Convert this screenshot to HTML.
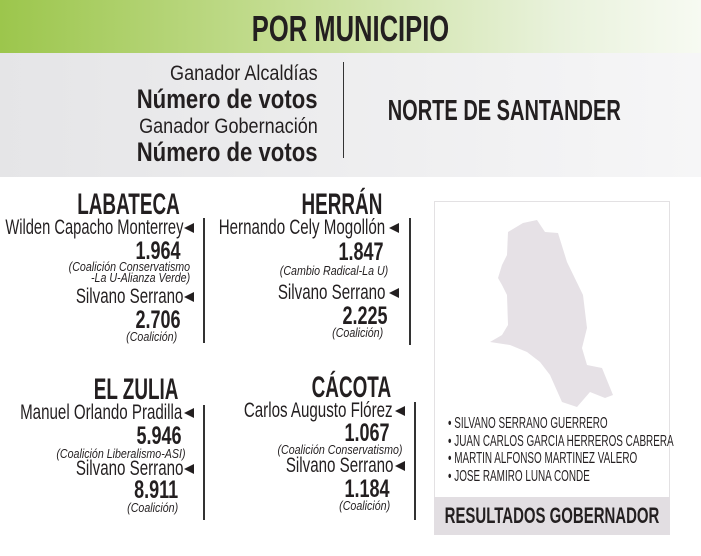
<!DOCTYPE html>
<html><head><meta charset="utf-8"><style>
body{margin:0;width:701px;height:556px;background:#fff;position:relative;overflow:hidden;font-family:"Liberation Sans",sans-serif;color:#231f20}
.t{position:absolute;white-space:nowrap;transform:scaleX(.72);transform-origin:right center;text-align:right}
.h{transform:scaleX(.63)}
.i{font-style:italic;transform:scaleX(.82)}
.c{transform-origin:center center}
.b{font-weight:bold}
.ln{position:absolute;width:2px;background:#333}
.ar{position:absolute;width:0;height:0;border-top:5px solid transparent;border-bottom:5px solid transparent;border-right:10px solid #231f20}
</style></head><body>
<div style="position:absolute;left:0;top:0;width:701px;height:53px;background:linear-gradient(90deg,#9cc64c 0%,#c4dd92 40%,#e9f2dc 80%,#f7faf2 100%)"></div>
<div style="position:absolute;left:0;top:53px;width:701px;height:124px;background:linear-gradient(90deg,#e5e5e7,#f6f6f7)"></div>
<div class="t b c" style="left:0;width:701px;text-align:center;top:11px;font-size:36px;line-height:36px;transform:scaleX(.71)">POR MUNICIPIO</div>
<div class="t" style="right:383px;top:63px;font-size:21px;line-height:22px;transform:scaleX(.86)">Ganador Alcaldías</div>
<div class="t b" style="right:383px;top:86px;font-size:27px;line-height:27px;transform:scaleX(.82)">Número de votos</div>
<div class="t" style="right:383px;top:116px;font-size:21px;line-height:22px;transform:scaleX(.86)">Ganador Gobernación</div>
<div class="t b" style="right:383px;top:139px;font-size:27px;line-height:27px;transform:scaleX(.82)">Número de votos</div>
<div class="ln" style="left:343px;top:62px;height:96px;width:1px"></div>
<div class="t b" style="right:80px;top:96px;font-size:29px;line-height:30px;transform:scaleX(.69)">NORTE DE SANTANDER</div>

<!-- LABATECA -->
<div class="t b h" style="right:521px;top:190px;font-size:30px;line-height:30px">LABATECA</div>
<div class="t" style="right:518px;top:217px;font-size:21px;line-height:22px;transform:scaleX(.70)">Wilden Capacho Monterrey</div><div class="ar" style="left:184px;top:223px"></div>
<div class="t b" style="right:520px;top:239px;font-size:25px;line-height:25px">1.964</div>
<div class="t i" style="right:511px;top:261px;font-size:13px;line-height:11px">(Coalición Conservatismo<br>-La U-Alianza Verde)</div>
<div class="t" style="right:518px;top:286px;font-size:21px;line-height:22px">Silvano Serrano</div><div class="ar" style="left:184px;top:292px"></div>
<div class="t b" style="right:520px;top:308px;font-size:25px;line-height:25px">2.706</div>
<div class="t i" style="right:524px;top:330px;font-size:13px;line-height:13px">(Coalición)</div>
<div class="ln" style="left:203px;top:218px;height:125px"></div>

<!-- HERRAN -->
<div class="t b h" style="right:319px;top:190px;font-size:30px;line-height:30px">HERRÁN</div>
<div class="t" style="right:316px;top:217px;font-size:21px;line-height:22px">Hernando Cely Mogollón</div><div class="ar" style="left:389px;top:223px"></div>
<div class="t b" style="right:317px;top:240px;font-size:25px;line-height:25px">1.847</div>
<div class="t i" style="right:313px;top:264px;font-size:13px;line-height:13px">(Cambio Radical-La U)</div>
<div class="t" style="right:316px;top:282px;font-size:21px;line-height:22px">Silvano Serrano</div><div class="ar" style="left:389px;top:288px"></div>
<div class="t b" style="right:313px;top:304px;font-size:25px;line-height:25px">2.225</div>
<div class="t i" style="right:318px;top:326px;font-size:13px;line-height:13px">(Coalición)</div>
<div class="ln" style="left:409px;top:218px;height:127px"></div>

<!-- EL ZULIA -->
<div class="t b h" style="right:523px;top:375px;font-size:30px;line-height:30px">EL ZULIA</div>
<div class="t" style="right:519px;top:402px;font-size:21px;line-height:22px">Manuel Orlando Pradilla</div><div class="ar" style="left:184px;top:408px"></div>
<div class="t b" style="right:519px;top:424px;font-size:25px;line-height:25px">5.946</div>
<div class="t i" style="right:516px;top:447px;font-size:13px;line-height:13px">(Coalición Liberalismo-ASI)</div>
<div class="t" style="right:518px;top:458px;font-size:21px;line-height:22px">Silvano Serrano</div><div class="ar" style="left:184px;top:464px"></div>
<div class="t b" style="right:523px;top:478px;font-size:25px;line-height:25px">8.911</div>
<div class="t i" style="right:523px;top:501px;font-size:13px;line-height:13px">(Coalición)</div>
<div class="ln" style="left:203px;top:405px;height:115px"></div>

<!-- CACOTA -->
<div class="t b h" style="right:310px;top:373px;font-size:30px;line-height:30px">CÁCOTA</div>
<div class="t" style="right:308px;top:400px;font-size:21px;line-height:22px">Carlos Augusto Flórez</div><div class="ar" style="left:395px;top:406px"></div>
<div class="t b" style="right:311px;top:421px;font-size:25px;line-height:25px">1.067</div>
<div class="t i" style="right:299px;top:443px;font-size:13px;line-height:13px">(Coalición Conservatismo)</div>
<div class="t" style="right:308px;top:455px;font-size:21px;line-height:22px">Silvano Serrano</div><div class="ar" style="left:395px;top:461px"></div>
<div class="t b" style="right:311px;top:477px;font-size:25px;line-height:25px">1.184</div>
<div class="t i" style="right:311px;top:499px;font-size:13px;line-height:13px">(Coalición)</div>
<div class="ln" style="left:414px;top:402px;height:118px"></div>

<!-- map box -->
<div style="position:absolute;left:434px;top:201px;width:236px;height:333px;border:1px solid #e3e1e3;box-sizing:border-box"></div>
<svg style="position:absolute;left:0;top:0" width="701" height="556">
<polygon fill="#e6e1e6" points="537,220 545,232 558,233 567,262 583,295 587,328 582,348 587,365 602,368 613,395 605,398 590,392 577,407 562,402 550,375 540,362 527,352 510,345 490,342 502,335 508,325 507,295 502,285 498,278 502,265 507,255 508,232 523,223"/>
</svg>
<div style="position:absolute;left:448px;top:415px;font-size:16px;line-height:17.5px;white-space:nowrap;transform:scaleX(.62);transform-origin:left top">
• SILVANO SERRANO GUERRERO<br>• JUAN CARLOS GARCIA HERREROS CABRERA<br>• MARTIN ALFONSO MARTINEZ VALERO<br>• JOSE RAMIRO LUNA CONDE</div>
<div style="position:absolute;left:434px;top:497px;width:236px;height:38px;background:#e2dee2"></div>
<div class="t b c" style="left:352px;width:400px;text-align:center;top:504px;font-size:22px;line-height:24px;transform:scaleX(.68)">RESULTADOS GOBERNADOR</div>
</body></html>
